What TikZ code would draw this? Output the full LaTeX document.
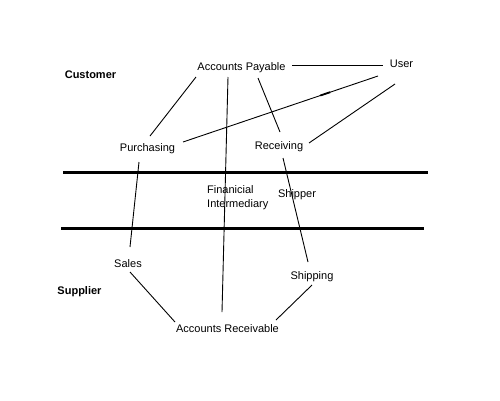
\documentclass[tikz,border=0pt]{standalone}
\usepackage{fontspec}
\setmainfont{Liberation Sans}
\usetikzlibrary{calc}
\begin{document}
\begin{tikzpicture}[x=1pt,y=-1pt,
  lbl/.style={inner sep=0pt,text height=8pt,text depth=0pt,font=\fontsize{11}{14}\selectfont},
  lane/.style={inner sep=0pt,text height=8pt,text depth=0pt,font=\fontsize{11}{14}\selectfont\bfseries},
  conn/.style={line width=0.9pt,black},
  bar/.style={line width=3pt,black}]
\useasboundingbox[fill=white] (0,0) rectangle (500,400);
% labels
\node[lane] (cust) at (90.5,74.5) {Customer};
\node[lane] (supp) at (79.5,290.5) {Supplier};
\node[lbl] (ap) at (241.5,66) {Accounts Payable};
\node[lbl] (user) at (401.5,63) {User};
\node[lbl] (pur) at (147.5,147) {Purchasing};
\node[lbl] (rec) at (279,145) {Receiving};
\node[inner sep=0pt,anchor=north west,align=left,font=\fontsize{11}{14}\selectfont] (fin) at (207,185.5) {Finanicial\\Intermediary};
\node[lbl] (shipper) at (297,193) {Shipper};
\node[lbl] (sales) at (128,263) {Sales};
\node[lbl] (ship) at (312,275) {Shipping};
\node[lbl] (ar) at (227.5,328) {Accounts Receivable};
% lane boundaries
\draw[bar] (63,172.5) -- (428,172.5);
\draw[bar] (61,228.5) -- (424,228.5);
% connectors
\draw[conn] ([shift={(50.5,-1)}]ap.center) -- ([shift={(-18.5,2)}]user.center);
\draw[conn] ([shift={(-45.5,11)}]ap.center) -- ([shift={(2.5,-11)}]pur.center);
\draw[conn] ([shift={(-13.5,11)}]ap.center) -- ([shift={(-5.5,-16)}]ar.center);
\draw[conn] ([shift={(16.5,12)}]ap.center) -- ([shift={(1,-13)}]rec.center);
\draw[conn] ([shift={(-23.5,13)}]user.center) coordinate (u1) -- ([shift={(35.5,-5)}]pur.center) coordinate (p1);
\draw[line width=1.8pt] ($(u1)!0.245!(p1)$) -- ($(u1)!0.295!(p1)$);
\draw[conn] ([shift={(-6.5,21)}]user.center) -- ([shift={(30,-2)}]rec.center);
\draw[conn] ([shift={(-8.5,15)}]pur.center) -- ([shift={(2,-16)}]sales.center);
\draw[conn] ([shift={(4,13)}]rec.center) -- ([shift={(-4,-13)}]ship.center);
\draw[conn] ([shift={(2,9)}]sales.center) -- ([shift={(-52.5,-6)}]ar.center);
\draw[conn] ([shift={(0,10)}]ship.center) -- ([shift={(48.5,-8)}]ar.center);
\end{tikzpicture}
\end{document}
